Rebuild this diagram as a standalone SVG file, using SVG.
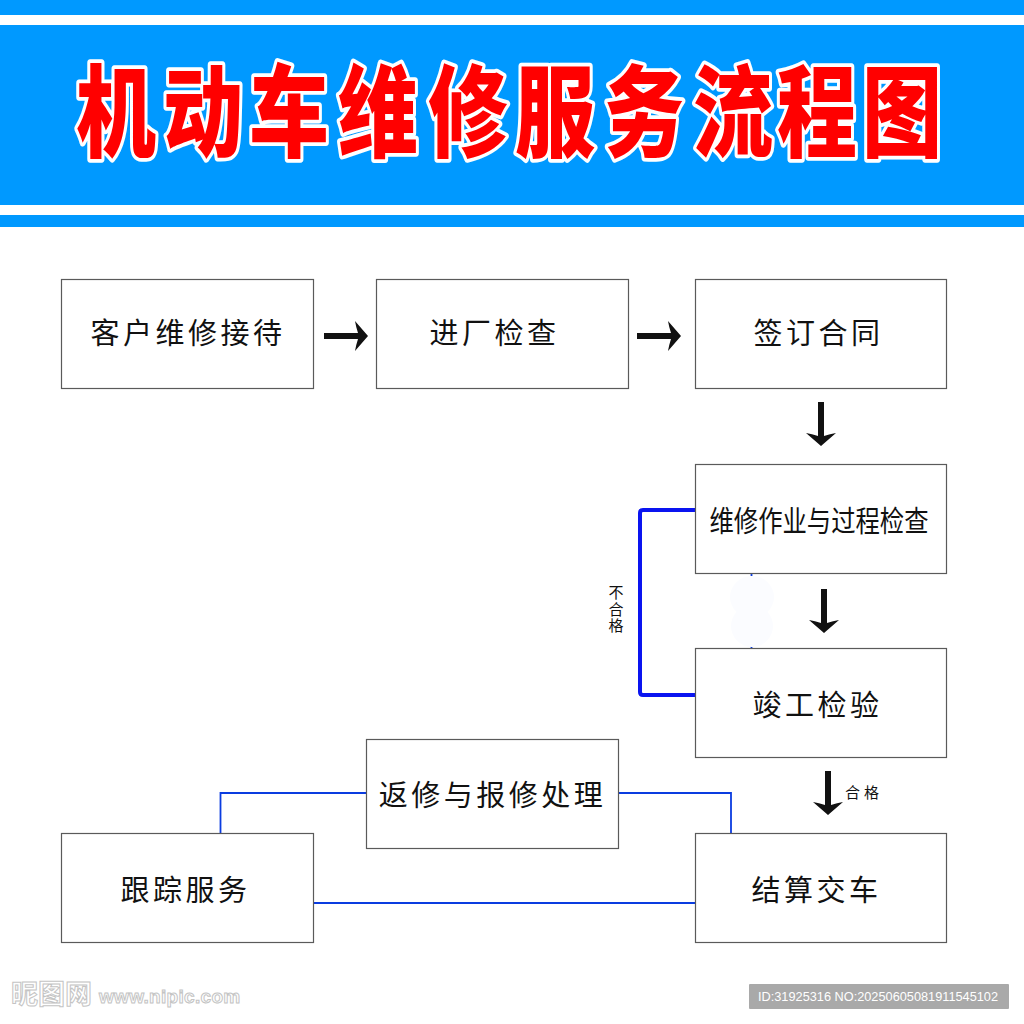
<svg xmlns="http://www.w3.org/2000/svg" width="1024" height="1024" viewBox="0 0 1024 1024">
<style>
.box{fill:#fff;stroke:#5a5a5a;stroke-width:1.2}
.lbl{font-family:"Noto Sans CJK SC",sans-serif;font-size:29px;letter-spacing:3.500px;text-anchor:middle;fill:#111}
.blue{fill:none;stroke:#0a3ce0;stroke-width:1.8}
.blue2{fill:none;stroke:#0a14f0;stroke-width:4}
.small{font-family:"Noto Sans CJK SC",sans-serif;font-size:15px;fill:#111;text-anchor:middle}
.title{font-family:"Noto Sans CJK SC",sans-serif;font-weight:900;font-size:80px;fill:#f00;stroke:#fff;stroke-width:6;stroke-linejoin:round;paint-order:stroke;text-anchor:middle}
.arr{fill:#111}
</style>
<defs>
<path id="ad" d="M-3,-44 H3 V-10 Q9,-12 15,-13 L0,0 L-15,-13 Q-9,-12 -3,-10Z"/>
<path id="ar" d="M-44,-3 H-10 Q-12,-9 -13,-15 L0,0 L-13,15 Q-12,9 -10,3 H-44Z"/>
</defs>
<rect width="1024" height="1024" fill="#fff"/>
<g id="header">
<rect y="0" width="1024" height="15" fill="#0099ff"/>
<rect y="25" width="1024" height="180" fill="#0099ff"/>
<rect y="215" width="1024" height="12" fill="#0099ff"/>
<g class="title">
<text transform="translate(116,149) scale(1,1.25)">机</text>
<text transform="translate(203,149) scale(1,1.25)">动</text>
<text transform="translate(289,149) scale(1,1.25)">车</text>
<text transform="translate(378,149) scale(1,1.25)">维</text>
<text transform="translate(468,149) scale(1,1.25)">修</text>
<text transform="translate(555,149) scale(1,1.25)">服</text>
<text transform="translate(644,149) scale(1,1.25)">务</text>
<text transform="translate(733,149) scale(1,1.25)">流</text>
<text transform="translate(817,149) scale(1,1.25)">程</text>
<text transform="translate(902,149) scale(1,1.25)">图</text>
</g>
</g>
<g id="connectors">
<path class="blue2" d="M695,510 H643 Q640,510 640,513 V692 Q640,695 643,695 H695"/>
<path class="blue" d="M366,793 H220.500 V834"/>
<path class="blue" d="M618,793 H731 V834"/>
<path class="blue" d="M313,903 H695"/>
<path class="blue" d="M751.500,573 V576 M751.500,646 V649"/>
<ellipse cx="752" cy="597" rx="22" ry="21" fill="#fbfcff"/>
<ellipse cx="752" cy="626" rx="21" ry="21" fill="#fbfcff"/>
<use href="#ar" class="arr" x="368" y="336"/>
<use href="#ar" class="arr" x="681" y="336"/>
<use href="#ad" class="arr" x="821" y="446"/>
<use href="#ad" class="arr" x="824" y="633"/>
<use href="#ad" class="arr" x="828" y="815"/>
<text x="616" y="585" style="font-family:'Noto Sans CJK SC',sans-serif;font-size:15px;fill:#111;writing-mode:vertical-rl;letter-spacing:1.500px">不合格</text>
<text class="small" x="864" y="798" style="letter-spacing:4px">合格</text>
</g>
<g id="n1"><rect class="box" x="61.500" y="279.500" width="252" height="109"/><text class="lbl" x="188" y="344">客户维修接待</text></g>
<g id="n2"><rect class="box" x="376.500" y="279.500" width="252" height="109"/><text class="lbl" x="494.500" y="344">进厂检查</text></g>
<g id="n3"><rect class="box" x="695.500" y="279.500" width="251" height="109"/><text class="lbl" x="818.500" y="344">签订合同</text></g>
<g id="n4"><rect class="box" x="695.500" y="464.500" width="251" height="109"/><text class="lbl" transform="translate(819,532) scale(.84,1)" style="letter-spacing:0;font-size:29px">维修作业与过程检查</text></g>
<g id="n5"><rect class="box" x="695.500" y="648.500" width="251" height="109"/><text class="lbl" x="817.500" y="716">竣工检验</text></g>
<g id="n6"><rect class="box" x="366.500" y="739.500" width="252" height="109"/><text class="lbl" x="492.500" y="806">返修与报修处理</text></g>
<g id="n7"><rect class="box" x="61.500" y="833.500" width="252" height="109"/><text class="lbl" x="185.500" y="901">跟踪服务</text></g>
<g id="n8"><rect class="box" x="695.500" y="833.500" width="251" height="109"/><text class="lbl" x="816.500" y="901">结算交车</text></g>
<g id="watermark">
<text x="11" y="1004" style="font-family:'Noto Sans CJK SC',sans-serif;font-size:27px;font-weight:700;fill:#fff;stroke:#c4c4c4;stroke-width:1">昵图网</text>
<text x="99" y="1003" style="font-family:'Liberation Sans',sans-serif;font-size:19px;font-weight:700;fill:#fff;stroke:#c4c4c4;stroke-width:1;letter-spacing:.3px">www.nipic.com</text>
<rect x="749" y="984" width="260" height="25" rx="1" fill="#a9a9a9"/>
<text x="878" y="1001" text-anchor="middle" style="font-family:'Liberation Sans',sans-serif;font-size:13px;fill:#fff" textLength="240" lengthAdjust="spacingAndGlyphs">ID:31925316 NO:20250605081911545102</text>
</g>
</svg>
